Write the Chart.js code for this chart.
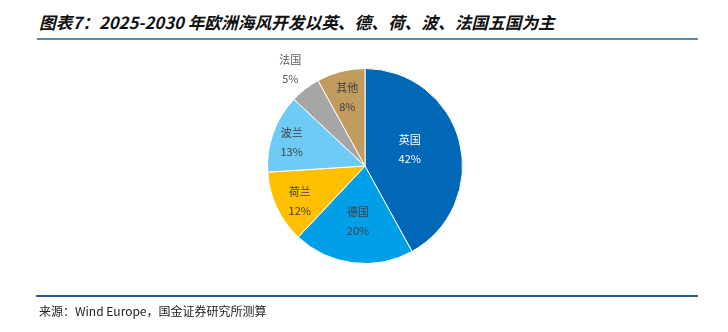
<!DOCTYPE html>
<html>
<head>
<meta charset="utf-8">
<script src="https://cdn.jsdelivr.net/npm/chart.js@4.4.0/dist/chart.umd.min.js"></script>
<style>
  html, body { margin: 0; padding: 0; background: #fff; }
  #wrap { position: relative; width: 728px; height: 332px; overflow: hidden; }
  #title {
    position: absolute; left: 39px; top: 10px;
    font-family: "Noto Sans CJK SC", sans-serif; font-weight: bold; font-style: italic;
    font-size: 16.7px; color: #111; white-space: nowrap;
  }
  #topline { position: absolute; left: 37px; top: 38px; width: 661px; height: 2px; background: #5b8aa6; }
  #botline { position: absolute; left: 36px; top: 295px; width: 662px; height: 2px; background: #2a5d8c; }
  #source {
    position: absolute; left: 39px; top: 302px;
    font-family: "Noto Sans CJK SC", sans-serif; font-size: 12px; color: #222; white-space: nowrap;
  }
  canvas { position: absolute; left: 0; top: 0; }
</style>
</head>
<body>
<div id="wrap">
  <div id="title">图表7：2025-2030 年欧洲海风开发以英、德、荷、波、法国五国为主</div>
  <div id="topline"></div>
  <canvas id="pie" width="728" height="332"></canvas>
  <div id="botline"></div>
  <div id="source">来源：Wind Europe，国金证券研究所测算</div>
</div>
<script>
// 数据
const countries = ['英国', '德国', '荷兰', '波兰', '法国', '其他'];
const shares = [42, 20, 12, 13, 5, 8];

const sliceColors = ['#0068b7', '#00a0e9', '#ffc000', '#6ecbf5', '#a6a6a6', '#c19c5e'];
const labelColors = ['#ffffff', '#404040', '#404040', '#404040', '#595959', '#404040'];
// 标签离圆心的相对距离 / 角度微调(度)
const labelRadius = [0.49, 0.57, 0.76, 0.79, 1.25, 0.73];
const labelTurn = [-6, 0, -3, -2, 0, 0];

const pieLabels = {
  id: 'pieLabels',
  afterDatasetsDraw(chart) {
    const ctx = chart.ctx;
    const meta = chart.getDatasetMeta(0);
    ctx.save();
    ctx.font = '11px "Noto Sans CJK SC", sans-serif';
    ctx.textAlign = 'center';
    ctx.textBaseline = 'middle';
    meta.data.forEach((arc, i) => {
      const mid = (arc.startAngle + arc.endAngle) / 2 + labelTurn[i] * Math.PI / 180;
      const r = arc.outerRadius * labelRadius[i];
      const x = arc.x + Math.cos(mid) * r;
      const y = arc.y + Math.sin(mid) * r;
      ctx.fillStyle = labelColors[i];
      ctx.fillText(countries[i], x, y - 9.5);
      ctx.fillText(shares[i] + '%', x, y + 9.5);
    });
    ctx.restore();
  }
};

new Chart(document.getElementById('pie'), {
  type: 'pie',
  data: {
    labels: countries,
    datasets: [{
      data: shares,
      backgroundColor: sliceColors,
      borderColor: '#ffffff',
      borderWidth: 1
    }]
  },
  options: {
    responsive: false,
    animation: false,
    layout: { padding: { left: 267, right: 265, top: 68, bottom: 68 } },
    plugins: {
      legend: { display: false },
      tooltip: { enabled: false }
    }
  },
  plugins: [pieLabels]
});
</script>
</body>
</html>
